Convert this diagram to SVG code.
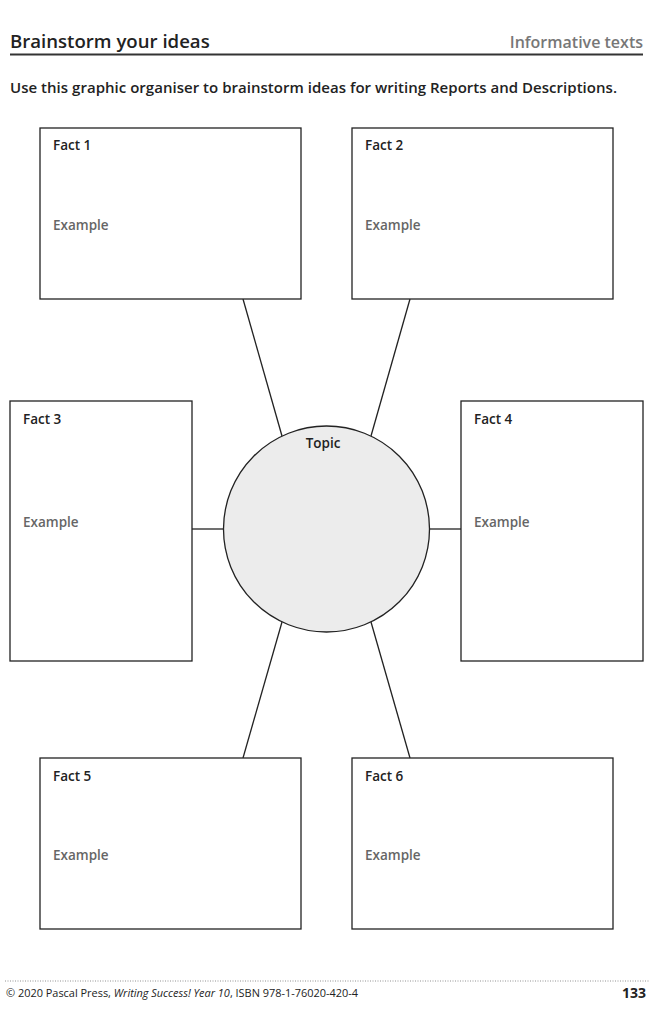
<svg xmlns="http://www.w3.org/2000/svg" width="654" height="1024" viewBox="0 0 654 1024">
<style>
text{font-family:"Open Sans","Liberation Sans",sans-serif}
.box{fill:#fff;stroke:#222;stroke-width:1.3}
.lbl{font-size:13.5px;font-weight:600;fill:#222}
.ex{font-size:13.5px;font-weight:600;fill:#666}
.con line{stroke:#222;stroke-width:1.3}
</style>
<rect width="654" height="1024" fill="#fff"/>
<text x="10" y="48" font-size="18.6" font-weight="600" fill="#222">Brainstorm your ideas</text>
<text x="643" y="48" font-size="16" font-weight="600" fill="#777" text-anchor="end">Informative texts</text>
<line x1="10" y1="54.5" x2="643" y2="54.5" stroke="#333" stroke-width="2"/>
<text x="10" y="93" font-size="15" font-weight="600" fill="#222" textLength="607" lengthAdjust="spacing">Use this graphic organiser to brainstorm ideas for writing Reports and Descriptions.</text>
<g class="con">
<line x1="243" y1="299" x2="282" y2="436"/>
<line x1="410" y1="299" x2="371" y2="436"/>
<line x1="192" y1="529" x2="224" y2="529"/>
<line x1="429" y1="529" x2="461" y2="529"/>
<line x1="243" y1="758" x2="282" y2="622"/>
<line x1="410" y1="758" x2="371" y2="622"/>
</g>
<g id="topic"><circle cx="326.5" cy="529" r="103" fill="#ececec" stroke="#222" stroke-width="1.3"/><text x="323" y="448" class="lbl" text-anchor="middle">Topic</text></g>
<g id="fact1"><rect class="box" x="40" y="128" width="261" height="171"/><text class="lbl" x="53" y="150">Fact 1</text><text class="ex" x="53" y="230">Example</text></g>
<g id="fact2"><rect class="box" x="352" y="128" width="261" height="171"/><text class="lbl" x="365" y="150">Fact 2</text><text class="ex" x="365" y="230">Example</text></g>
<g id="fact3"><rect class="box" x="10" y="401" width="182" height="260"/><text class="lbl" x="23" y="424">Fact 3</text><text class="ex" x="23" y="527">Example</text></g>
<g id="fact4"><rect class="box" x="461" y="401" width="182" height="260"/><text class="lbl" x="474" y="424">Fact 4</text><text class="ex" x="474" y="527">Example</text></g>
<g id="fact5"><rect class="box" x="40" y="758" width="261" height="171"/><text class="lbl" x="53" y="781">Fact 5</text><text class="ex" x="53" y="860">Example</text></g>
<g id="fact6"><rect class="box" x="352" y="758" width="261" height="171"/><text class="lbl" x="365" y="781">Fact 6</text><text class="ex" x="365" y="860">Example</text></g>
<line x1="5" y1="981" x2="649" y2="981" stroke="#777" stroke-width="0.8" stroke-dasharray="1,1.5"/>
<text x="6" y="997" font-size="11" fill="#222" font-family="Liberation Sans,sans-serif" textLength="352" lengthAdjust="spacingAndGlyphs">© 2020 Pascal Press, <tspan font-style="italic">Writing Success! Year 10</tspan>, ISBN 978-1-76020-420-4</text>
<text x="646" y="998" font-size="14" font-weight="bold" fill="#222" text-anchor="end" font-family="Liberation Sans,sans-serif">133</text>
</svg>
